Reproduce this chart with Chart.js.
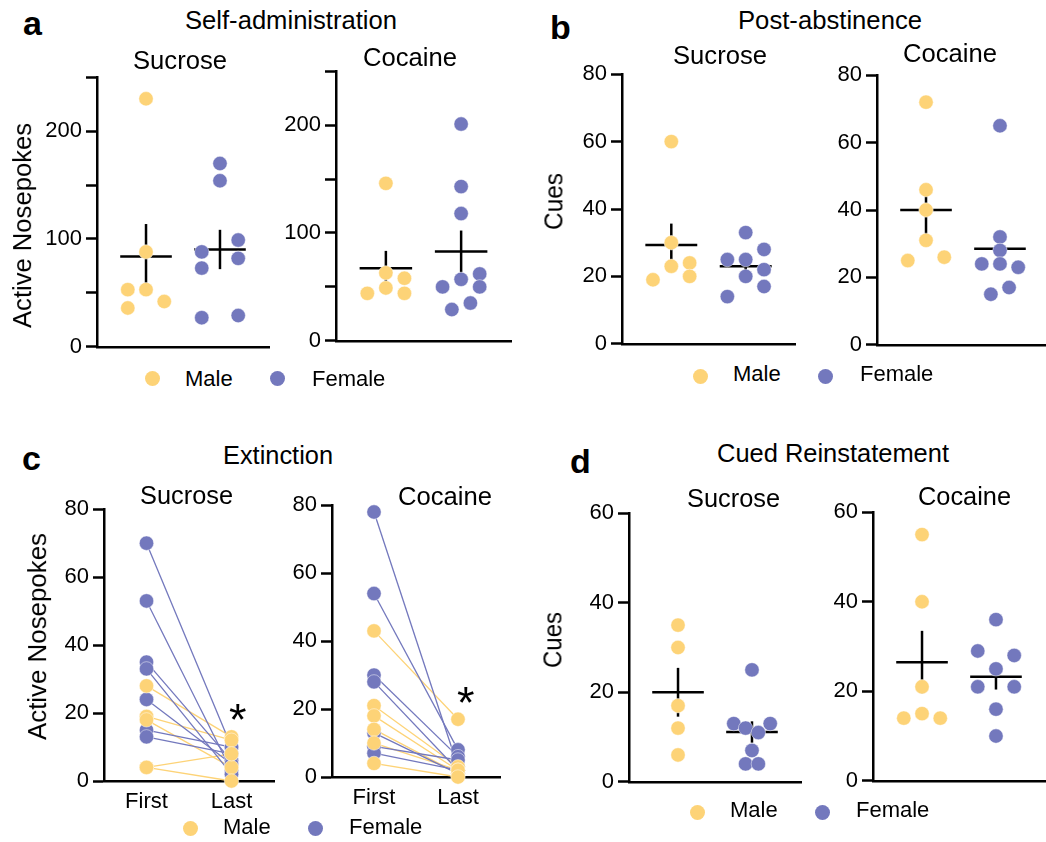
<!DOCTYPE html>
<html>
<head>
<meta charset="utf-8">
<script src="https://cdn.jsdelivr.net/npm/chart.js@4/dist/chart.umd.min.js"></script>
<style>
  body { margin: 0; background: #fff; width: 1046px; height: 842px; overflow: hidden; position: relative;
         font-family: "Liberation Sans", Arial, Helvetica, sans-serif; color: #000; }
  canvas { position: absolute; }
  .t { position: absolute; left: 0; top: 0; white-space: nowrap; line-height: 1; transform-origin: 0 0; }
  .dot { position: absolute; border-radius: 50%; }
</style>
</head>
<body>
<script>
// ---- DATA ----
const sexes = ["Male", "Female"];
const phases = ["First", "Last"];

// a: self-administration, active nosepokes
const aSucMale = [230, 88, 53, 53, 36, 42];
const aSucFemale = [170, 154, 99, 88, 82, 73, 27, 29];
const aCocMale = [146, 63, 58, 49, 44, 44];
const aCocFemale = [201, 143, 118, 62, 57, 50, 50, 35, 29];

// b: post-abstinence, cues
const bSucMale = [60, 30, 23, 24, 20, 19];
const bSucFemale = [33, 28, 25, 25, 22, 20, 17, 14];
const bCocMale = [72, 46, 40, 31, 25, 26];
const bCocFemale = [65, 32, 28, 24, 24, 23, 17, 15];

// c: extinction, first vs last session (paired per animal)
const cSucMaleFirst = [28, 19, 18, 4, 4];
const cSucMaleLast = [13, 12, 4, 8, 0];
const cSucFemaleFirst = [70, 53, 35, 33, 24, 15, 13];
const cSucFemaleLast = [10, 3, 6, 2, 5, 10, 8];
const cCocMaleFirst = [43, 21, 18, 14, 10, 4];
const cCocMaleLast = [17, 3, 2, 1, 2, 0];
const cCocFemaleFirst = [78, 54, 30, 28, 13, 9, 7];
const cCocFemaleLast = [3, 8, 6, 2, 1, 5, 2];

// d: cued reinstatement, cues
const dSucMale = [35, 30, 17, 12, 6];
const dSucFemale = [25, 13, 12, 11, 13, 7, 4, 4];
const dCocMale = [55, 40, 21, 15, 14, 14];
const dCocFemale = [36, 29, 28, 25, 21, 21, 16, 10];

// tick labels
const nosepokeTicks = [0, 100, 200];
const cueTicks80 = [0, 20, 40, 60, 80];
const cueTicks60 = [0, 20, 40, 60];

// ---- STYLE / LAYOUT ----
const FONT = "'Liberation Sans', Arial, Helvetica, sans-serif";
const YELLOW = "#FDD377";
const BLUE = "#7378BD";
Chart.defaults.font.family = FONT;
Chart.defaults.color = "#000";

const YW = 64, PT = 16, PB = 16;
const JIT = 0.053, HW = 0.15;
const CX = [0.285, 0.715];
const DOT = 7.2;

// beeswarm offsets (in half-dot steps), same order as the values
const aSucMaleJit = [0, 0, -2, 0, -2, 2];
const aSucFemaleJit = [0, 0, 2, -2, 2, -2, -2, 2];
const aCocMaleJit = [0, 0, 2, 0, -2, 2];
const aCocFemaleJit = [0, 0, 0, 2, 0, -2, 2, 1, -1];
const bSucMaleJit = [0, 0, 0, 2, 2, -2];
const bSucFemaleJit = [0, 2, -2, 0, 2, 0, 2, -2];
const bCocMaleJit = [0, 0, 0, 0, -2, 2];
const bCocFemaleJit = [0, 0, 0, -2, 0, 2, 1, -1];
const dSucMaleJit = [0, 0, 0, 0, 0];
const dSucFemaleJit = [0, -2, -0.7, 0.7, 2, 0, -0.7, 0.7];
const dCocMaleJit = [0, 0, 0, 0, -2, 2];
const dCocFemaleJit = [0, -2, 2, 0, -2, 2, 0, 0];

function meanSem(vals) {
  const n = vals.length;
  const m = vals.reduce((s, v) => s + v, 0) / n;
  const sd = Math.sqrt(vals.reduce((s, v) => s + (v - m) * (v - m), 0) / (n - 1));
  return [m, sd / Math.sqrt(n)];
}

function yScale(max, step, labels) {
  return {
    min: 0, max: max,
    ticks: { stepSize: step, autoSkip: false, padding: 4, font: { size: 22 },
             callback: v => labels.includes(v) ? String(v) : "" },
    grid: { display: true, drawOnChartArea: false, drawTicks: true, tickLength: 11, tickWidth: 2.5, color: "#000" },
    border: { display: true, color: "#000", width: 2.5 },
    afterFit: s => { s.width = YW; }
  };
}

function makeCanvas(box, below) {
  const c = document.createElement("canvas");
  const w = box.right - box.x + YW;
  const h = box.bottom - box.top + PT + below;
  c.width = w; c.height = h;
  c.style.left = (box.x - YW) + "px";
  c.style.top = (box.top - PT) + "px";
  c.style.width = w + "px"; c.style.height = h + "px";
  document.body.appendChild(c);
  return c;
}

const baseOptions = {
  responsive: false, animation: false, events: [],
  plugins: { legend: { display: false }, tooltip: { enabled: false } }
};

// ---- DOT PLOTS WITH MEAN +/- SEM ----
function dotPanel(box, yMax, step, labels, groups) {
  const datasets = [];
  groups.forEach((g, gi) => {
    const [m, s] = meanSem(g.vals);
    datasets.push({
      data: g.vals.map((v, i) => ({ x: CX[gi] + g.jit[i] * JIT, y: v })),
      backgroundColor: g.color, borderColor: "rgba(255,255,255,0.6)", borderWidth: 0.8,
      pointRadius: DOT, showLine: false, order: 1, clip: false
    });
    const line = { borderColor: "#000", borderWidth: 2.5, pointRadius: 0, showLine: true, order: 2, clip: false };
    datasets.push(Object.assign({ data: [{ x: CX[gi] - HW, y: m }, { x: CX[gi] + HW, y: m }] }, line));
    datasets.push(Object.assign({ data: [{ x: CX[gi], y: m - s }, { x: CX[gi], y: m + s }] }, line));
  });
  new Chart(makeCanvas(box, PB), {
    type: "scatter",
    data: { datasets },
    options: Object.assign({}, baseOptions, {
      layout: { padding: { left: 0, right: 0, top: PT, bottom: PB } },
      scales: {
        x: { type: "linear", min: 0, max: 1, ticks: { display: false }, grid: { display: false },
             border: { display: true, color: "#000", width: 2.5 }, afterFit: s => { s.height = 0; } },
        y: yScale(yMax, step, labels)
      }
    })
  });
}

// ---- PAIRED FIRST / LAST PLOTS ----
function pairedPanel(box, mFirst, mLast, fFirst, fLast) {
  const datasets = [];
  const pts = (first, last) => first.map(v => ({ x: phases[0], y: v })).concat(last.map(v => ({ x: phases[1], y: v })));
  datasets.push({ data: pts(mFirst, mLast), backgroundColor: YELLOW, borderColor: "rgba(255,255,255,0.6)",
                  borderWidth: 0.8, pointRadius: DOT, showLine: false, order: 1, clip: false });
  datasets.push({ data: pts(fFirst, fLast), backgroundColor: BLUE, borderColor: "rgba(255,255,255,0.6)",
                  borderWidth: 0.8, pointRadius: DOT, showLine: false, order: 2, clip: false });
  const pair = (first, last, color) => first.forEach((v, i) => datasets.push({
    data: [{ x: phases[0], y: v }, { x: phases[1], y: last[i] }],
    borderColor: color, borderWidth: 1.3, pointRadius: 0, showLine: true, order: 3, clip: false
  }));
  pair(fFirst, fLast, BLUE);
  pair(mFirst, mLast, YELLOW);
  new Chart(makeCanvas(box, 40), {
    type: "line",
    data: { labels: phases, datasets },
    options: Object.assign({}, baseOptions, {
      layout: { padding: { left: 0, right: 0, top: PT, bottom: 0 } },
      scales: {
        x: { type: "category", offset: true, grid: { display: false, drawTicks: false },
             ticks: { padding: 8, font: { size: 22 } },
             border: { display: true, color: "#000", width: 2.5 }, afterFit: s => { s.height = 40; } },
        y: yScale(80, 20, cueTicks80)
      }
    })
  });
}

dotPanel({ x: 97, top: 76, bottom: 348, right: 277 }, 250, 50, nosepokeTicks,
  [{ vals: aSucMale, jit: aSucMaleJit, color: YELLOW }, { vals: aSucFemale, jit: aSucFemaleJit, color: BLUE }]);
dotPanel({ x: 336, top: 70, bottom: 342, right: 519 }, 250, 50, nosepokeTicks,
  [{ vals: aCocMale, jit: aCocMaleJit, color: YELLOW }, { vals: aCocFemale, jit: aCocFemaleJit, color: BLUE }]);
dotPanel({ x: 622, top: 73, bottom: 345, right: 803 }, 80, 20, cueTicks80,
  [{ vals: bSucMale, jit: bSucMaleJit, color: YELLOW }, { vals: bSucFemale, jit: bSucFemaleJit, color: BLUE }]);
dotPanel({ x: 877, top: 74, bottom: 346, right: 1057 }, 80, 20, cueTicks80,
  [{ vals: bCocMale, jit: bCocMaleJit, color: YELLOW }, { vals: bCocFemale, jit: bCocFemaleJit, color: BLUE }]);
pairedPanel({ x: 104, top: 508, bottom: 781, right: 282 }, cSucMaleFirst, cSucMaleLast, cSucFemaleFirst, cSucFemaleLast);
pairedPanel({ x: 332, top: 504, bottom: 777, right: 508 }, cCocMaleFirst, cCocMaleLast, cCocFemaleFirst, cCocFemaleLast);
dotPanel({ x: 629, top: 512, bottom: 783, right: 809 }, 60, 20, cueTicks60,
  [{ vals: dSucMale, jit: dSucMaleJit, color: YELLOW }, { vals: dSucFemale, jit: dSucFemaleJit, color: BLUE }]);
dotPanel({ x: 873, top: 511, bottom: 782, right: 1053 }, 60, 20, cueTicks60,
  [{ vals: dCocMale, jit: dCocMaleJit, color: YELLOW }, { vals: dCocFemale, jit: dCocFemaleJit, color: BLUE }]);

// ---- TEXT ----
function txt(s, x, base, size, opt) {
  opt = opt || {};
  const el = document.createElement("div");
  el.className = "t";
  el.textContent = s;
  el.style.fontSize = size + "px";
  if (opt.bold) el.style.fontWeight = "bold";
  document.body.appendChild(el);
  const w = el.getBoundingClientRect().width;
  const sx = opt.w ? opt.w / w : 1;
  if (opt.rot) {
    // x = baseline x, base = centre y of the text run
    const L = w * sx;
    el.style.transform = `translate(${x - 0.8465 * size}px, ${base + L / 2}px) rotate(-90deg) scaleX(${sx})`;
  } else {
    el.style.transform = `translate(${x}px, ${base - 0.8465 * size}px) scaleX(${sx})`;
  }
}

function legend(mx, fx, dy, tx1, tx2, base) {
  [[mx, YELLOW], [fx, BLUE]].forEach(([x, c]) => {
    const d = document.createElement("div");
    d.className = "dot";
    d.style.left = (x - 7.5) + "px"; d.style.top = (dy - 7.5) + "px";
    d.style.width = "15px"; d.style.height = "15px"; d.style.background = c;
    document.body.appendChild(d);
  });
  txt(sexes[0], tx1, base, 22);
  txt(sexes[1], tx2, base, 22);
}

txt("a", 23, 35, 34, { bold: true });
txt("b", 550, 39, 34, { bold: true });
txt("c", 22, 470, 34, { bold: true });
txt("d", 570, 473, 34, { bold: true });

txt("Self-administration", 185, 30, 25.5, { w: 212 });
txt("Post-abstinence", 738, 30, 25.5, { w: 184 });
txt("Extinction", 223, 465, 25.5, { w: 110 });
txt("Cued Reinstatement", 717, 463, 25.5, { w: 232 });

txt("Sucrose", 133, 70, 25.5, { w: 94 });
txt("Cocaine", 363, 67, 25.5, { w: 94 });
txt("Sucrose", 673, 65, 25.5, { w: 94 });
txt("Cocaine", 903, 63, 25.5, { w: 94 });
txt("Sucrose", 140, 505, 25.5, { w: 93 });
txt("Cocaine", 398, 506, 25.5, { w: 94 });
txt("Sucrose", 687, 508, 25.5, { w: 93 });
txt("Cocaine", 918, 506, 25.5, { w: 93 });

txt("Active Nosepokes", 31.7, 225.5, 25.5, { rot: true, w: 205 });
txt("Cues", 563, 201.5, 25.5, { rot: true, w: 57 });
txt("Active Nosepokes", 46.7, 636.5, 25.5, { rot: true, w: 207 });
txt("Cues", 562, 640, 25.5, { rot: true, w: 56 });

txt("*", 229, 735, 45);
txt("*", 457, 718, 45);

legend(152, 277, 378, 185, 312, 387);
legend(700, 825, 376, 733, 860, 382);
legend(190, 315, 828, 223, 349, 835);
legend(697, 822, 812, 730, 856, 818);
</script>
</body>
</html>
